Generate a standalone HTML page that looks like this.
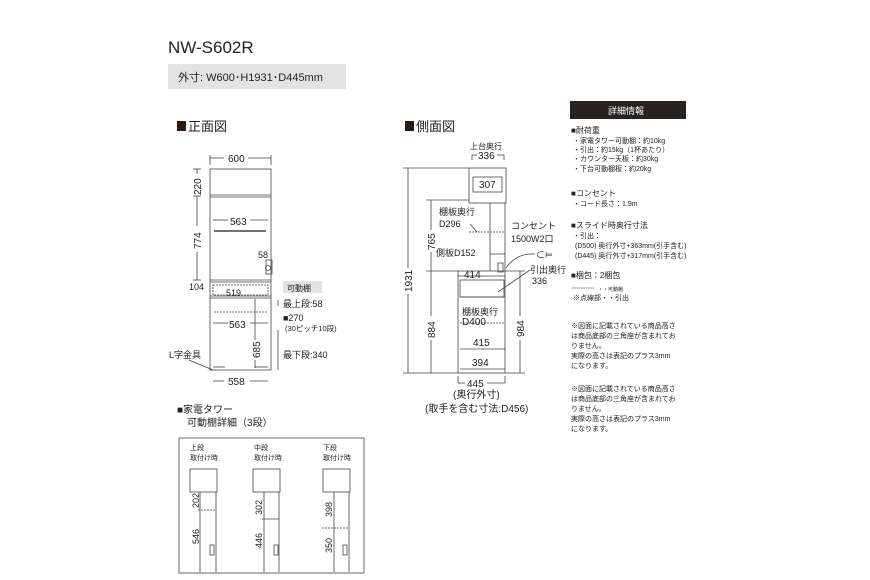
<!DOCTYPE html>
<html><head><meta charset="utf-8"><style>
html,body{margin:0;padding:0;background:#fff;width:870px;height:580px;overflow:hidden}
svg{display:block}
text{font-family:"Liberation Sans","Noto Sans CJK JP",sans-serif;fill:#222}
</style></head><body>
<svg width="870" height="580" viewBox="0 0 870 580" xmlns="http://www.w3.org/2000/svg">
<text x="168" y="53" font-size="17">NW-S602R</text>
<rect x="168" y="64" width="178" height="25" fill="#e3e3e3"/>
<text x="178" y="81" font-size="11">外寸: W600･H1931･D445mm</text>

<rect x="177" y="121" width="9" height="10" fill="#2a1a14"/>
<text x="188" y="131" font-size="13">正面図</text>
<rect x="405" y="121" width="9" height="10" fill="#2a1a14"/>
<text x="416" y="131" font-size="13">側面図</text>

<g stroke="#444" stroke-width="0.8" fill="none">
<!-- front view -->
<rect x="210" y="169" width="61" height="201"/>
<line x1="210" y1="195" x2="271" y2="195"/><line x1="210" y1="197" x2="271" y2="197"/>
<line x1="210" y1="280" x2="271" y2="280"/><line x1="210" y1="282" x2="271" y2="282"/>
<line x1="210" y1="296" x2="271" y2="296"/><line x1="210" y1="298" x2="271" y2="298"/>
<rect x="213" y="285" width="55" height="10" stroke-dasharray="2,1"/>
<line x1="214" y1="231" x2="266" y2="231" stroke-width="1.5"/>
<line x1="214" y1="312" x2="268" y2="312" stroke-dasharray="2,1"/>
<line x1="213" y1="220" x2="228" y2="220"/><line x1="250" y1="220" x2="268" y2="220"/>
<line x1="213" y1="323" x2="228" y2="323"/><line x1="250" y1="323" x2="268" y2="323"/>
<line x1="255" y1="299" x2="255" y2="340"/><line x1="255" y1="360" x2="255" y2="368"/>
<rect x="266" y="260" width="6" height="14"/><circle cx="268" cy="268" r="2.5"/>
<line x1="213" y1="367" x2="225" y2="367"/><line x1="255" y1="367" x2="268" y2="367"/>
<line x1="210" y1="158" x2="224" y2="158"/><line x1="248" y1="158" x2="271" y2="158"/>
<line x1="210" y1="155" x2="210" y2="165"/><line x1="271" y1="155" x2="271" y2="165"/>
<line x1="197" y1="169" x2="197" y2="174"/><line x1="197" y1="196" x2="197" y2="226"/><line x1="197" y1="252" x2="197" y2="280"/>
<line x1="193" y1="169" x2="201" y2="169"/><line x1="193" y1="196" x2="201" y2="196"/><line x1="193" y1="280" x2="201" y2="280"/>
<line x1="213" y1="381" x2="224" y2="381"/><line x1="250" y1="381" x2="268" y2="381"/>
<line x1="278" y1="300" x2="278" y2="306"/><line x1="278" y1="330" x2="278" y2="370"/>
<line x1="189" y1="360" x2="213" y2="370"/>
<!-- side view -->
<rect x="469" y="168" width="37" height="35"/>
<rect x="473" y="177" width="29" height="15"/>
<line x1="490" y1="203" x2="490" y2="271"/><line x1="505" y1="203" x2="505" y2="271"/>
<line x1="469" y1="232" x2="505" y2="232" stroke-dasharray="2,1"/>
<line x1="490" y1="254" x2="505" y2="254"/>
<rect x="498" y="263" width="5" height="9"/>
<rect x="458" y="271" width="47" height="102"/>
<line x1="458" y1="276" x2="505" y2="276"/>
<rect x="460" y="280" width="44" height="17"/>
<line x1="460" y1="297" x2="504" y2="297"/>
<line x1="460" y1="323" x2="505" y2="323" stroke-dasharray="2,1"/>
<line x1="460" y1="349" x2="505" y2="349"/>
<line x1="460" y1="369" x2="505" y2="369"/>
<line x1="472" y1="155" x2="472" y2="160"/><line x1="472" y1="155" x2="477" y2="155"/><line x1="497" y1="155" x2="504" y2="155"/><line x1="504" y1="155" x2="504" y2="160"/>
<line x1="403" y1="168" x2="469" y2="168"/><line x1="408" y1="168" x2="408" y2="268"/><line x1="408" y1="294" x2="408" y2="373"/><line x1="403" y1="373" x2="458" y2="373"/>
<line x1="426" y1="200" x2="469" y2="200"/><line x1="431" y1="200" x2="431" y2="230"/><line x1="431" y1="252" x2="431" y2="316"/><line x1="431" y1="340" x2="431" y2="373"/>
<line x1="426" y1="271" x2="458" y2="271"/>
<line x1="505" y1="271" x2="525" y2="271"/><line x1="520" y1="271" x2="520" y2="316"/><line x1="520" y1="340" x2="520" y2="373"/><line x1="505" y1="373" x2="525" y2="373"/>
<line x1="458" y1="376" x2="458" y2="383"/><line x1="458" y1="383" x2="465" y2="383"/><line x1="487" y1="383" x2="505" y2="383"/><line x1="505" y1="376" x2="505" y2="383"/>
<path d="M506 268 Q515 255 530 254 L535 254"/>
<line x1="470" y1="224" x2="477" y2="232"/>
<line x1="498" y1="292" x2="530" y2="270"/>
<line x1="572" y1="288" x2="594" y2="288" stroke-dasharray="1.5,0.8"/>
<!-- bottom box -->
<rect x="179" y="438" width="185" height="135"/>
<rect x="190" y="469" width="27" height="23"/>
<line x1="200" y1="492" x2="200" y2="572"/><line x1="216" y1="492" x2="216" y2="572"/>
<line x1="198" y1="510" x2="216" y2="510" stroke-dasharray="2,1"/>
<rect x="210" y="545" width="4" height="10"/>
<rect x="253" y="469" width="27" height="23"/>
<line x1="264" y1="492" x2="264" y2="572"/><line x1="279" y1="492" x2="279" y2="572"/>
<line x1="262" y1="519" x2="279" y2="519"/>
<rect x="274" y="545" width="4" height="10"/>
<rect x="323" y="469" width="27" height="23"/>
<line x1="334" y1="492" x2="334" y2="572"/><line x1="349" y1="492" x2="349" y2="572"/>
<line x1="322" y1="528" x2="349" y2="528" stroke-dasharray="2,1"/>
<rect x="343" y="545" width="4" height="10"/>
</g>

<g font-size="10">
<text x="228" y="162">600</text>
<text x="230" y="225">563</text>
<text x="258" y="258" font-size="9">58</text>
<text x="226" y="296" font-size="9">519</text>
<text x="229" y="328">563</text>
<text x="228" y="385">558</text>
<text x="189" y="290" font-size="9">104</text>
<text transform="translate(201,195) rotate(-90)">220</text>
<text transform="translate(201,249) rotate(-90)">774</text>
<text transform="translate(260,358) rotate(-90)">685</text>
<rect x="283" y="281" width="39" height="12" fill="#e3e3e3"/>
<text x="287" y="291" font-size="8">可動棚</text>
<text x="283" y="307" font-size="9">最上段:58</text>
<text x="283" y="321" font-size="9">■270</text>
<text x="285" y="331" font-size="7.5">(30ピッチ10段)</text>
<text x="283" y="358" font-size="9">最下段:340</text>
<text x="169" y="358" font-size="9">L字金具</text>

<text x="470" y="149" font-size="8">上台奥行</text>
<text x="478" y="159">336</text>
<text x="479" y="188">307</text>
<text x="439" y="215" font-size="9">棚板奥行</text>
<text x="439" y="227" font-size="9">D296</text>
<text x="436" y="256" font-size="9">側板D152</text>
<text x="511" y="229" font-size="9">コンセント</text>
<text x="511" y="242" font-size="9">1500W2口</text>
<text x="536" y="258" font-size="9">⊂⊨</text>
<text x="464" y="278">414</text>
<text x="530" y="273" font-size="9">引出奥行</text>
<text x="532" y="284" font-size="9">336</text>
<text x="462" y="315" font-size="9">棚板奥行</text>
<text x="462" y="325">D400</text>
<text x="473" y="346">415</text>
<text x="472" y="366">394</text>
<text x="467" y="387">445</text>
<text transform="translate(412,292) rotate(-90)">1931</text>
<text transform="translate(435,250) rotate(-90)">765</text>
<text transform="translate(435,338) rotate(-90)">884</text>
<text transform="translate(524,337) rotate(-90)">984</text>
</g>
<text x="453" y="398" font-size="10">(奥行外寸)</text>
<text x="425" y="412" font-size="10">(取手を含む寸法:D456)</text>

<rect x="570" y="101" width="116" height="18" fill="#2a2220"/>
<text x="608" y="114" font-size="9" style="fill:#fff">詳細情報</text>
<g font-size="7">
<text x="571" y="133" font-size="8">■耐荷重</text>
<text x="573" y="143">・家電タワー可動棚：約10kg</text>
<text x="573" y="152">・引出：約15kg（1杯あたり）</text>
<text x="573" y="161">・カウンター天板：約30kg</text>
<text x="573" y="171">・下台可動棚板：約20kg</text>
<text x="571" y="196" font-size="8">■コンセント</text>
<text x="573" y="206">・コード長さ：1.9m</text>
<text x="571" y="228" font-size="8">■スライド時奥行寸法</text>
<text x="573" y="238">・引出：</text>
<text x="575" y="248">(D500) 奥行外寸+363mm(引手含む)</text>
<text x="575" y="258">(D445) 奥行外寸+317mm(引手含む)</text>
<text x="571" y="278" font-size="8">■梱包：2梱包</text>
<text x="598" y="291" font-size="5">・・可動棚</text>
<text x="573" y="300">※点線部・・引出</text>
<text x="571" y="328">※図面に記載されている商品高さ</text>
<text x="571" y="338">は商品底部の三角座が含まれてお</text>
<text x="571" y="348">りません。</text>
<text x="571" y="358">実際の高さは表記のプラス3mm</text>
<text x="571" y="368">になります。</text>
<text x="571" y="391">※図面に記載されている商品高さ</text>
<text x="571" y="401">は商品底部の三角座が含まれてお</text>
<text x="571" y="411">りません。</text>
<text x="571" y="421">実際の高さは表記のプラス3mm</text>
<text x="571" y="431">になります。</text>
</g>

<text x="177" y="413" font-size="10">■家電タワー</text>
<text x="187" y="426" font-size="10">可動棚詳細（3段）</text>
<g font-size="7">
<text x="190" y="450">上段</text><text x="190" y="460">取付け時</text>
<text x="254" y="450">中段</text><text x="254" y="460">取付け時</text>
<text x="323" y="450">下段</text><text x="323" y="460">取付け時</text>
</g>
<g font-size="9">
<text transform="translate(199,508) rotate(-90)">202</text>
<text transform="translate(199,544) rotate(-90)">546</text>
<text transform="translate(262,515) rotate(-90)">302</text>
<text transform="translate(262,548) rotate(-90)">446</text>
<text transform="translate(332,517) rotate(-90)">398</text>
<text transform="translate(332,553) rotate(-90)">350</text>
</g>
</svg>
</body></html>
